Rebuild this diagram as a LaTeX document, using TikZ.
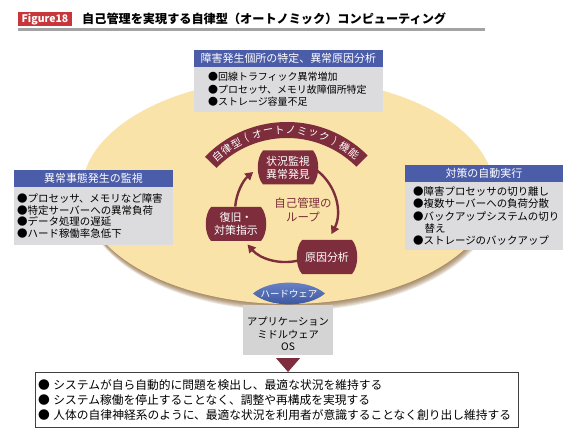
\documentclass[tikz,border=0pt]{standalone}
\usepackage{fontspec}
\setmainfont{Noto Sans CJK JP}
\usetikzlibrary{arrows.meta}
\definecolor{dred}{HTML}{7D2D3C}
\definecolor{hblue}{HTML}{4B5CA8}
\definecolor{bgray}{HTML}{DCDCDE}
\definecolor{figred}{HTML}{C8363C}
\definecolor{tline}{HTML}{A3A3A3}
\definecolor{ellin}{HTML}{F9E3A8}
\definecolor{ellout}{HTML}{F7CD6C}
\definecolor{shad}{HTML}{7A4E18}
\definecolor{lensc}{HTML}{34509C}
\definecolor{lenshi}{HTML}{7089CB}
\definecolor{osgray}{HTML}{D4D4D4}
\definecolor{sumline}{HTML}{404040}
\pgfdeclareradialshading{ellsh}{\pgfpoint{0bp}{0bp}}{color(0bp)=(ellin); color(28bp)=(ellin); color(50bp)=(ellout); color(75bp)=(ellout)}
\newcommand\mylp{(}
\newcommand\myrp{)}
\newcommand\barrel[4]{%
  \begin{scope}[shift={(#2,#3)}]
    \fill[dred] (-25,17) -- (25,17) .. controls (32,9) and (32,-9) .. (25,-17)
      -- (-25,-17) .. controls (-32,-9) and (-32,9) .. (-25,17) -- cycle;
  \end{scope}
  \node[loopt] (#1) at (#2,#3) {#4};}
\begin{document}
\begin{tikzpicture}[x=1bp,y=1bp,
  hdr/.style={fill=hblue, text=white, font=\fontsize{11}{13}\selectfont, anchor=north west, inner sep=0, minimum height=17},
  bodyb/.style={fill=bgray, anchor=north west, inner sep=0},
  itm/.style={anchor=west, align=left, inner sep=0},
  loopt/.style={text=white, align=center, font=\fontsize{11}{13}\selectfont, inner sep=0},
  larr/.style={draw=dred, line width=2.4, -{Triangle[length=8,width=8.5]}},
  bandt/.style={text=white, font=\fontsize{10.3}{10.3}\selectfont, inner sep=0}]
\useasboundingbox (0,0) rectangle (578,-439);
\fill[white] (0,0) rectangle (578,-439);

% title
\node[fill=figred, text=white, font=\bfseries\fontsize{10.5}{12}\selectfont, minimum width=54, minimum height=15, inner sep=0] (fig) at (45,-19) {Figure18};
\node[anchor=west, font=\bfseries\fontsize{12.2}{14}\selectfont, inner sep=0] (title) at (82,-19) {自己管理を実現する自律型（オートノミック）コンピューティング};
\draw[tline, line width=2.5] (18,-29.5) -- (485,-29.5);

% ellipse with shadow
\foreach \k in {1,...,7} {\fill[shad, opacity=0.13] (288+0.3*\k,-191-\k) ellipse [x radius=206, y radius=113];}
\shade[shading=ellsh] (288,-191) ellipse [x radius=206, y radius=113];

% top box
\node[hdr, minimum width=189] (th) at (194,-50) {障害発生個所の特定、異常原因分析};
\node[bodyb, minimum width=189, minimum height=45] (tb) at (194,-67) {};
\node[itm, font=\fontsize{10}{12.5}\selectfont] (tbt) at ([xshift=14]tb.west) {●回線トラフィック異常増加\\●プロセッサ、メモリ故障個所特定\\●ストレージ容量不足};

% left box
\node[hdr, minimum width=159] (lh) at (14,-170) {異常事態発生の監視};
\node[bodyb, minimum width=159, minimum height=58] (lb) at (14,-187) {};
\node[itm, font=\fontsize{10.5}{11.8}\selectfont] (lbt) at ([xshift=3]lb.west) {●プロセッサ、メモリなど障害\\●特定サーバーへの異常負荷\\●データ処理の遅延\\●ハード稼働率急低下};

% right box
\node[hdr, minimum width=158] (rh) at (405,-165) {対策の自動実行};
\node[bodyb, minimum width=158, minimum height=68] (rb) at (405,-182) {};
\node[itm, font=\fontsize{10.5}{12.3}\selectfont] (rbt) at ([xshift=8]rb.west) {●障害プロセッサの切り離し\\●複数サーバーへの負荷分散\\●バックアップシステムの切り\\\hspace*{1.1em}替え\\●ストレージのバックアップ};

% band
\coordinate (bc) at (287,-236);
\fill[dred] ([shift={(136:114)}]bc) arc[start angle=136, end angle=45, radius=114]
  -- ++(225:16) arc[start angle=45, end angle=136, radius=98] -- cycle;
\foreach \c [count=\i from 0] in {自,律,型,\mylp,オ,ー,ト,ノ,ミ,ッ,ク,\myrp,機,能} {
  \pgfmathsetmacro\ang{131-\i*80/13}
  \node[bandt, rotate=\ang-90] (bt\i) at ([shift={(\ang:106)}]bc) {\c};
}

% loop
\barrel{mon}{288}{-167.5}{状況監視\\異常発見}
\barrel{rec}{236}{-224}{復旧・\\対策指示}
\barrel{cause}{327}{-257}{原因分析}
\coordinate (lc) at (286,-211);
\draw[larr] ([shift={(52:51)}]lc) arc[start angle=52, end angle=-27, radius=51];
\draw[larr] ([shift={(-77:51)}]lc) arc[start angle=-77, end angle=-139, radius=51];
\draw[larr] ([shift={(175:51)}]lc) arc[start angle=175, end angle=130, radius=51];
\node[text=dred, align=center, font=\fontsize{11.5}{14}\selectfont, inner sep=0] (ctr) at (303,-210) {自己管理の\\ループ};

% OS box
\node[fill=osgray, minimum width=90, minimum height=50, anchor=north west, inner sep=0] (os) at (243,-305) {};
\node[align=center, font=\fontsize{10.3}{12.5}\selectfont, inner sep=0] (ost) at ([yshift=-4]os.center) {アプリケーション\\ミドルウェア\\OS};

% hardware lens
\shade[top color=lenshi, bottom color=lensc] (253,-293.5) .. controls (270,-279) and (308,-279) .. (325,-293.5)
  .. controls (308,-308) and (270,-308) .. (253,-293.5) -- cycle;
\node[text=white, font=\fontsize{9.5}{11}\selectfont, inner sep=0] (hw) at (289,-293.5) {ハードウェア};

% summary box
\node[draw=sumline, line width=1.2, fill=white, minimum width=485, minimum height=55, anchor=north west, inner sep=0] (sum) at (35,-372) {};
\node[itm, font=\fontsize{11.8}{15}\selectfont] (sumt) at ([xshift=3]sum.west) {●\hspace{.3em}システムが自ら自動的に問題を検出し、最適な状況を維持する\\●\hspace{.3em}システム稼働を停止することなく、調整や再構成を実現する\\●\hspace{.3em}人体の自律神経系のように、最適な状況を利用者が意識することなく創り出し維持する};

% arrow marker
\fill[dred] ([xshift=-12,yshift=-3]os.south) -- ([xshift=12,yshift=-3]os.south) -- (os.south |- sum.north) -- cycle;
\end{tikzpicture}
\end{document}
